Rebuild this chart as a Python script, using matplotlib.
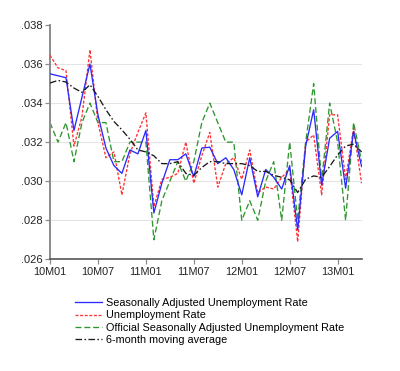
import matplotlib
matplotlib.use("Agg")
import matplotlib.pyplot as plt
import numpy as np

plt.rcParams['font.family'] = ['Liberation Sans', 'DejaVu Sans']

# Months 2010M01 .. 2013M04
years = [10, 11, 12, 13]
months = [f"{y}M{m:02d}" for y in years for m in range(1, 13)][:40]

tick_labels = ["10M01", "10M07", "11M01", "11M07", "12M01", "12M07", "13M01"]

sa_rate = [0.0355, 0.0354, 0.0353, 0.0326, 0.0343, 0.0360, 0.0334, 0.0317, 0.0308, 0.0304,
           0.0316, 0.0314, 0.0326, 0.02837, 0.0299, 0.0311, 0.0311, 0.0314, 0.03024, 0.0317,
           0.03174, 0.0309, 0.0312, 0.0306, 0.0293, 0.0312, 0.0292, 0.0306, 0.0302, 0.0296,
           0.0308, 0.0275, 0.0318, 0.03366, 0.0298, 0.0322, 0.03255, 0.02964, 0.03255, 0.03075]

raw_rate = [0.03645, 0.0358, 0.03567, 0.0318, 0.0333, 0.03673, 0.0330, 0.0312, 0.0315, 0.0293,
            0.0314, 0.0325, 0.0335, 0.0287, 0.0301, 0.0302, 0.0304, 0.0320, 0.0299, 0.0313,
            0.0325, 0.0297, 0.0309, 0.0312, 0.0301, 0.0316, 0.0294, 0.0297, 0.0296, 0.0302,
            0.0306, 0.0269, 0.0320, 0.03237, 0.0293, 0.0334, 0.0334, 0.0301, 0.0327, 0.0299]

official_rate = [0.033, 0.032, 0.033, 0.031, 0.033, 0.034, 0.033, 0.033, 0.031, 0.031,
                 0.032, 0.032, 0.032, 0.027, 0.029, 0.030, 0.031, 0.030, 0.031, 0.033,
                 0.034, 0.033, 0.032, 0.032, 0.028, 0.029, 0.028, 0.030, 0.031, 0.028,
                 0.032, 0.028, 0.032, 0.035, 0.030, 0.034, 0.032, 0.028, 0.033, 0.031]

moving_avg = [0.03503, 0.03516, 0.03508, 0.03477, 0.03455, 0.03494, 0.03434, 0.03366, 0.03306, 0.03263,
              0.03215, 0.0316, 0.0315, 0.0313, 0.0309, 0.0309, 0.0310, 0.0304, 0.0303, 0.0307,
              0.0310, 0.0310, 0.0309, 0.0309, 0.0309, 0.0308, 0.0305, 0.0305, 0.0303, 0.0302,
              0.03007, 0.02942, 0.0301, 0.03027, 0.0302, 0.03075, 0.03135, 0.0318, 0.0319, 0.0315]

series_labels = ["Seasonally Adjusted Unemployment Rate", "Unemployment Rate",
                 "Official Seasonally Adjusted Unemployment Rate", "6-month moving average"]

x = np.arange(len(months))

fig = plt.figure(figsize=(4.0, 3.71), dpi=100)
ax = fig.add_axes([0.125, 0.3011, 0.779, 0.6315])

lw = 0.95
ax.plot(x, sa_rate, color='#2a2aff', lw=lw, linestyle='-', label=series_labels[0], zorder=4)
ax.plot(x, raw_rate, color='#ff3030', lw=lw, linestyle=(0, (2.2, 1.3)), label=series_labels[1], zorder=3)
ax.plot(x, official_rate, color='#2e962e', lw=lw, linestyle=(0, (4.5, 2.2)), label=series_labels[2], zorder=2)
ax.plot(x, moving_avg, color='#1a1a1a', lw=lw, linestyle=(0, (5, 1.8, 1.2, 1.8)), label=series_labels[3], zorder=5)

ax.set_xlim(0, len(months) - 1)
ax.set_ylim(0.026, 0.038)
yt = [0.026, 0.028, 0.030, 0.032, 0.034, 0.036, 0.038]
ax.set_yticks(yt)
ax.set_yticklabels([f"{v:.3f}"[1:] for v in yt])
ax.set_xticks([months.index(t) for t in tick_labels])
ax.set_xticklabels(tick_labels)

for v in [0.028, 0.030, 0.032, 0.034, 0.036]:
    ax.axhline(v, color='#e4e4e4', lw=0.8, zorder=0)

for s in ['top', 'right']:
    ax.spines[s].set_visible(False)
ax.spines['left'].set_color('#8c8c8c')
ax.spines['left'].set_linewidth(1.4)
ax.spines['bottom'].set_color('#555555')
ax.spines['bottom'].set_linewidth(1.2)
ax.tick_params(axis='both', colors='#8c8c8c', labelcolor='#222222', length=3.5, width=0.9, pad=2)
ax.tick_params(axis='y', labelsize=8.0)
ax.tick_params(axis='x', labelsize=7.8)

fig.legend(loc='upper left', bbox_to_anchor=(0.1875, 0.197), frameon=False, fontsize=7.8,
           borderaxespad=0, borderpad=0, handlelength=2.5, handletextpad=0.35, labelspacing=0.22)

fig.savefig("out.png", dpi=100, facecolor='white')
